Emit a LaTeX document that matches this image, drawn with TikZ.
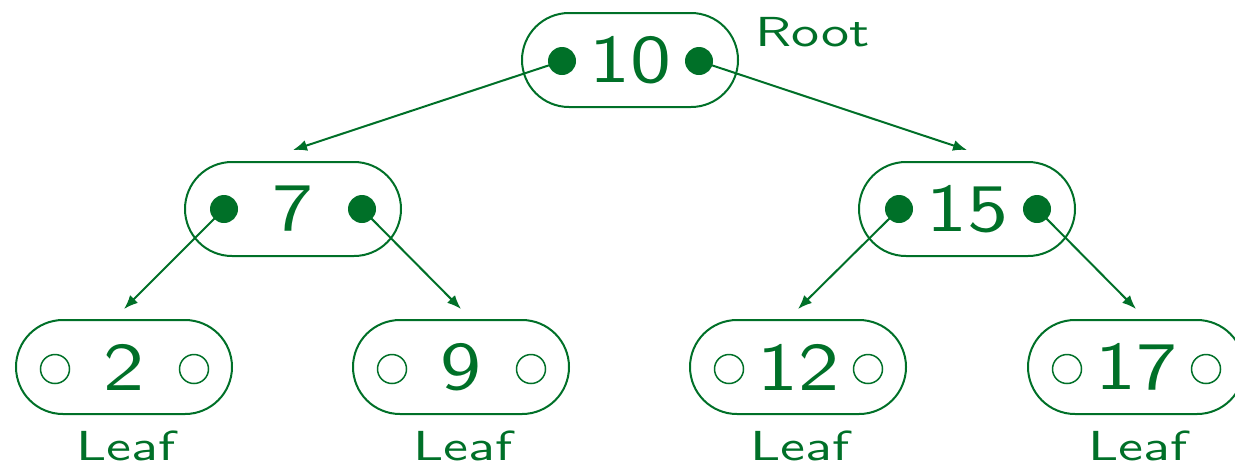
\documentclass[tikz,border=0pt]{standalone}
\usepackage{graphicx}
\usetikzlibrary{shapes,arrows.meta}
\definecolor{treegreen}{RGB}{0,112,40}
\newcommand{\keytext}[1]{\scalebox{4.1}[3.4]{\sffamily #1}}
\newcommand{\tagtext}[1]{\scalebox{2.8}[2.1]{\sffamily #1}}

\begin{document}
\begin{tikzpicture}[x=0.5pt,y=-0.5pt]
\tikzset{
keynode/.style={rectangle,rounded corners=23.5pt,draw=treegreen,text=treegreen,line width=1pt,minimum width=108pt,minimum height=47pt,inner sep=0pt},
fulldot/.style={circle,fill=treegreen,minimum size=14pt,inner sep=0pt},
emptydot/.style={circle,draw=treegreen,line width=0.75pt,minimum size=14.5pt,inner sep=0pt},
myarrow/.style={-{Latex[length=7pt,width=5.5pt]}, draw=treegreen, line width=1pt},
mylabel/.style={text=treegreen,inner sep=0pt},
}
\useasboundingbox (0,0) rectangle (1235,467);

% the tree
\node [keynode] (root) at (630,60) {\keytext{10}};
\node [keynode, below of=root, node distance=74.5pt, xshift=-168.5pt] (n7) {\keytext{7}};
\node [keynode, below of=root, node distance=74.5pt, xshift=168.5pt] (n15) {\keytext{15}};
\node [keynode, below of=n7, node distance=79pt, xshift=-84.5pt] (n2) {\keytext{2}};
\node [keynode, below of=n7, node distance=79pt, xshift=84pt] (n9) {\keytext{9}};
\node [keynode, below of=n15, node distance=79pt, xshift=-84.5pt] (n12) {\keytext{12}};
\node [keynode, below of=n15, node distance=79pt, xshift=84.5pt] (n17) {\keytext{17}};

% pointers
\node [fulldot] (rootl) at ([xshift=-34pt,yshift=-0.5pt]root.center) {};
\node [fulldot] (rootr) at ([xshift=34.5pt,yshift=-0.5pt]root.center) {};
\node [fulldot] (n7l) at ([xshift=-34.5pt]n7.center) {};
\node [fulldot] (n7r) at ([xshift=34.5pt]n7.center) {};
\node [fulldot] (n15l) at ([xshift=-34pt]n15.center) {};
\node [fulldot] (n15r) at ([xshift=35pt]n15.center) {};
\node [emptydot] (n2l) at ([xshift=-34.5pt,yshift=-1pt]n2.center) {};
\node [emptydot] (n2r) at ([xshift=35pt,yshift=-1pt]n2.center) {};
\node [emptydot] (n9l) at ([xshift=-34.5pt,yshift=-1pt]n9.center) {};
\node [emptydot] (n9r) at ([xshift=35pt,yshift=-1pt]n9.center) {};
\node [emptydot] (n12l) at ([xshift=-34.5pt,yshift=-1pt]n12.center) {};
\node [emptydot] (n12r) at ([xshift=35pt,yshift=-1pt]n12.center) {};
\node [emptydot] (n17l) at ([xshift=-34.5pt,yshift=-1pt]n17.center) {};
\node [emptydot] (n17r) at ([xshift=35pt,yshift=-1pt]n17.center) {};

\draw[myarrow] (rootl.center) -- ([yshift=5.5pt]n7.north);
\draw[myarrow] (rootr.center) -- ([yshift=5.5pt]n15.north);
\draw[myarrow] (n7l.center) -- ([yshift=5pt]n2.north);
\draw[myarrow] (n7r.center) -- ([yshift=5pt]n9.north);
\draw[myarrow] (n15l.center) -- ([yshift=5pt]n12.north);
\draw[myarrow] (n15r.center) -- ([yshift=5pt]n17.north);

% labels
\node [mylabel, anchor=base west] (rootlabel) at (755,46) {\tagtext{Root}};
\node [mylabel, anchor=base] (leaf2) at ([xshift=1pt,yshift=-46.5pt]n2.center) {\tagtext{Leaf}};
\node [mylabel, anchor=base] (leaf9) at ([xshift=1pt,yshift=-46.5pt]n9.center) {\tagtext{Leaf}};
\node [mylabel, anchor=base] (leaf12) at ([xshift=1pt,yshift=-46.5pt]n12.center) {\tagtext{Leaf}};
\node [mylabel, anchor=base] (leaf17) at ([xshift=1pt,yshift=-46.5pt]n17.center) {\tagtext{Leaf}};
\end{tikzpicture}
\end{document}
